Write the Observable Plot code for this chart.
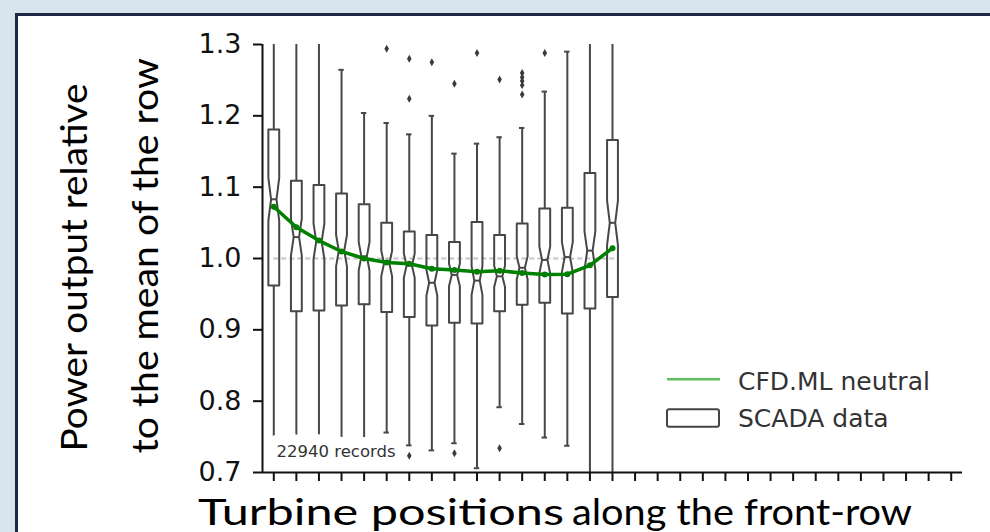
<!DOCTYPE html>
<html>
<head>
<meta charset="utf-8">
<script src="https://cdn.jsdelivr.net/npm/d3@7"></script>
<script src="https://cdn.jsdelivr.net/npm/@observablehq/plot@0.6"></script>
<style>
  html, body { margin: 0; padding: 0; background: #d8e5ee; }
  #wrap { position: relative; width: 990px; height: 532px; overflow: hidden; background: #d8e5ee; }
  #panel { position: absolute; left: 15px; top: 13px; width: 990px; height: 540px; background: #fff;
           border-left: 3px solid #1c2946; border-top: 3px solid #1c2946; }
  #chart, #overlay { position: absolute; left: 0; top: 0; }
  #overlay { pointer-events: none; }
</style>
</head>
<body>
<div id="wrap">
  <div id="panel"></div>
  <div id="chart"></div>
  <svg id="overlay" width="990" height="532"></svg>
</div>
<script>
// ---------- data ----------
const positions  = d3.range(16);                       // turbine positions (boxes)
const tickPositions = d3.range(31);                     // x-axis ticks
const yTicks = [0.7, 0.8, 0.9, 1.0, 1.1, 1.2, 1.3];

const q1s     = [0.962, 0.926, 0.927, 0.934, 0.936, 0.925, 0.918, 0.906, 0.910, 0.909, 0.926, 0.935, 0.938, 0.923, 0.930, 0.946];
const medians = [1.083, 1.030, 1.024, 1.011, 1.003, 0.993, 0.990, 0.966, 0.977, 0.969, 0.975, 0.987, 0.998, 1.002, 1.011, 1.050];
const q3s     = [1.181, 1.109, 1.103, 1.091, 1.076, 1.050, 1.038, 1.033, 1.023, 1.051, 1.033, 1.049, 1.070, 1.071, 1.120, 1.166];
const notchHalf = [0.030, 0.026, 0.025, 0.022, 0.020, 0.018, 0.017, 0.018, 0.016, 0.020, 0.015, 0.016, 0.019, 0.021, 0.027, 0.031];
const whiskerHi = [1.34, 1.34, 1.34, 1.2645, 1.204, 1.190, 1.174, 1.200, 1.147, 1.161, 1.170, 1.183, 1.234, 1.290, 1.34, 1.34];
const whiskerLo = [0.745, 0.745, 0.745, 0.745, 0.745, 0.756, 0.738, 0.731, 0.741, 0.706, 0.7915, 0.768, 0.749, 0.7375, 0.66, 0.66];

const outlierPos = [5, 6, 6, 6, 7, 8, 8, 9, 10, 10, 11, 11, 11, 11, 11, 12];
const outlierVal = [1.294, 1.280, 1.224, 0.7235, 1.275, 1.245, 0.727, 1.288, 1.251, 0.734, 1.260, 1.254, 1.249, 1.243, 1.230, 1.288];

const cfdNeutral = [1.0726, 1.0438, 1.0251, 1.0098, 1.0000, 0.9944, 0.9926, 0.9856, 0.9838, 0.9814, 0.9828, 0.9796, 0.9777, 0.9780, 0.9905, 1.0145];

const recordsLabel = "22940 records";
const seriesNames = ["CFD.ML neutral", "SCADA data"];
const yLabelLines = ["Power output relative", "to the mean of the row"];
const xLabelParts = ["Turbine positions", "along the front-row"];

// ---------- derived tables ----------
const W = 0.24;             // half box width (x units)
const boxes = positions.map(i => ({
  pos: i, q1: q1s[i], med: medians[i], q3: q3s[i], n: notchHalf[i], lo: whiskerLo[i], hi: whiskerHi[i]
}));
const outline = boxes.flatMap(b => [
  [b.pos - W, b.q1], [b.pos - W, b.med - b.n], [b.pos - W / 2, b.med], [b.pos - W, b.med + b.n],
  [b.pos - W, b.q3], [b.pos + W, b.q3], [b.pos + W, b.med + b.n], [b.pos + W / 2, b.med],
  [b.pos + W, b.med - b.n], [b.pos + W, b.q1], [b.pos - W, b.q1]
].map(([x, y]) => ({box: b.pos, x, y})));
const outliers = outlierPos.map((p, i) => ({pos: p, value: outlierVal[i]}));
const cfd = positions.map(i => ({pos: i, value: cfdNeutral[i]}));

const boxColor = "#474747";

const chart = Plot.plot({
  width: 990,
  height: 532,
  marginLeft: 262,
  marginRight: 28,
  marginTop: 44,
  marginBottom: 60,
  style: {fontFamily: "DejaVu Sans", fontSize: "27px", color: "#111", background: "transparent"},
  x: {domain: [-0.5, 30.5], axis: null},
  y: {domain: [0.7, 1.3], axis: null},
  marks: [
    Plot.ruleY([1.0], {x1: positions[0], x2: positions[positions.length - 1] + 0.2, stroke: "#c4c4c4", strokeWidth: 2, strokeDasharray: "5,3"}),
    Plot.line(outline, {x: "x", y: "y", z: "box", stroke: boxColor, strokeWidth: 2, clip: true}),
    Plot.ruleY(boxes, {y: "med", x1: d => d.pos - W / 2, x2: d => d.pos + W / 2, stroke: boxColor, strokeWidth: 2}),
    Plot.ruleX(boxes, {x: "pos", y1: "q3", y2: "hi", stroke: boxColor, strokeWidth: 2, clip: true}),
    Plot.ruleX(boxes, {x: "pos", y1: "q1", y2: "lo", stroke: boxColor, strokeWidth: 2, clip: true}),
    Plot.ruleY(boxes, {y: "hi", x1: d => d.pos - W / 2, x2: d => d.pos + W / 2, stroke: boxColor, strokeWidth: 2, clip: true}),
    Plot.ruleY(boxes, {y: "lo", x1: d => d.pos - W / 2, x2: d => d.pos + W / 2, stroke: boxColor, strokeWidth: 2, clip: true}),
    Plot.text([recordsLabel], {x: 0.12, y: 0.7295, text: d => d, textAnchor: "start", fontSize: 16.5, fill: "#333",
      stroke: "white", strokeWidth: 22, strokeLinejoin: "round", paintOrder: "stroke"}),
    Plot.dot(outliers, {x: "pos", y: "value", symbol: "diamond", r: 2.4, fill: "#3a3a3a", stroke: "none"}),
    Plot.line(cfd, {x: "pos", y: "value", stroke: "#008000", strokeWidth: 3.5}),
    Plot.dot(cfd, {x: "pos", y: "value", r: 3, fill: "#008000", stroke: "none"}),
    Plot.ruleX([-0.5], {stroke: "#111", strokeWidth: 2}),
    Plot.ruleY([0.7], {stroke: "#111", strokeWidth: 2}),
    Plot.axisY({ticks: yTicks, tickFormat: d3.format(".1f"), tickSize: 9, tickPadding: 12, strokeWidth: 2, label: null, fontSize: 27}),
    Plot.axisX({ticks: tickPositions, tickFormat: () => "", tickSize: 9, strokeWidth: 2, label: null})
  ]
});
document.getElementById("chart").appendChild(chart);

// ---------- axis titles and legend ----------
const ov = d3.select("#overlay");
const labelFont = "Lato, 'Open Sans', sans-serif";
[[yLabelLines[0], 87.3, 267.5, 368], [yLabelLines[1], 158.3, 255.8, 395]].forEach(([t, x, y, len]) => {
  ov.append("text").attr("transform", `translate(${x},${y}) rotate(-90)`)
    .attr("text-anchor", "middle").attr("font-family", labelFont).attr("font-size", 37)
    .attr("textLength", len).attr("lengthAdjust", "spacingAndGlyphs").attr("fill", "#000").text(t);
});
[[xLabelParts[0], 198, 366], [xLabelParts[1], 572, 340]].forEach(([t, x, len]) => {
  ov.append("text").attr("x", x).attr("y", 525).attr("font-family", labelFont).attr("font-size", 37)
    .attr("textLength", len).attr("lengthAdjust", "spacingAndGlyphs").attr("fill", "#000").text(t);
});

const lg = ov.append("g").attr("font-family", "DejaVu Sans").attr("font-size", 25).attr("fill", "#333");
lg.append("line").attr("x1", 667).attr("x2", 720).attr("y1", 379.3).attr("y2", 379.3)
  .attr("stroke", "#5fbf5f").attr("stroke-width", 2.5);
lg.append("text").attr("x", 738).attr("y", 381.7).attr("dy", "0.35em").text(seriesNames[0]);
lg.append("rect").attr("x", 667).attr("y", 409.3).attr("width", 52).attr("height", 17.4).attr("rx", 2)
  .attr("fill", "#fff").attr("stroke", "#444").attr("stroke-width", 2);
lg.append("text").attr("x", 738).attr("y", 418.3).attr("dy", "0.35em").text(seriesNames[1]);
</script>
</body>
</html>
